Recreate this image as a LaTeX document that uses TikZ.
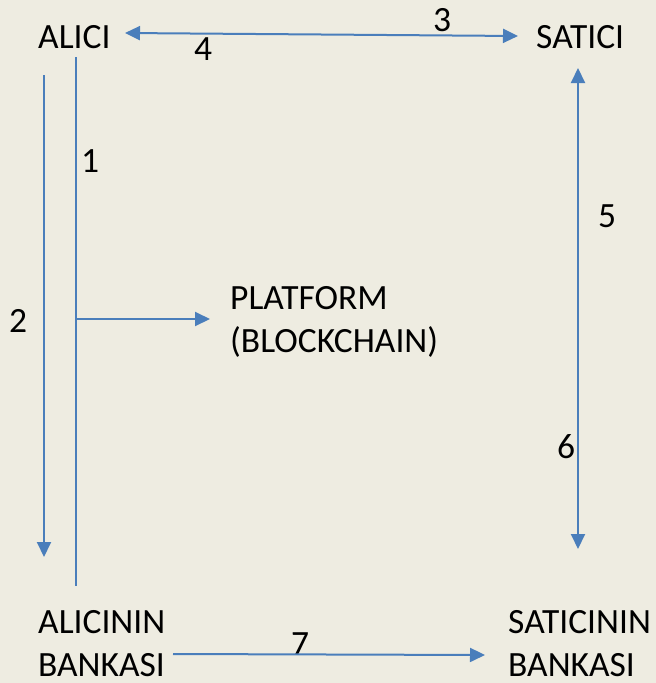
\documentclass[tikz,border=0pt]{standalone}
\usepackage{fontspec}
\setmainfont{Carlito}
\usetikzlibrary{arrows.meta}
\definecolor{bgtan}{HTML}{EEECE1}
\definecolor{lineblue}{HTML}{4A7EBB}
\begin{document}
\begin{tikzpicture}[x=1pt,y=-1pt,
  lbl/.style={inner sep=0pt,anchor=base west,font=\fontsize{35.5}{42}\selectfont},
  num/.style={inner sep=0pt,anchor=base,font=\fontsize{35.5}{42}\selectfont},
  conn/.style={draw=lineblue,line width=2pt},
  tip/.style={-{Triangle[length=15pt,width=14pt]}},
  tips/.style={{Triangle[length=15pt,width=14pt]}-{Triangle[length=15pt,width=14pt]}}]
\fill[bgtan] (0,0) rectangle (656,683);
\useasboundingbox (0,0) rectangle (656,683);
% texts
\node[lbl] (alici) at (38,48) {ALICI};
\node[lbl] (satici) at (536,48) {SATICI};
\node[lbl] (platform) at (230,309) {PLATFORM};
\node[lbl] (blockchain) at (230,352) {(BLOCKCHAIN)};
\node[lbl] (abank1) at (38,633) {ALICININ};
\node[lbl] (abank2) at (38,676) {BANKASI};
\node[lbl] (sbank1) at (508,633) {SATICININ};
\node[lbl] (sbank2) at (508,676) {BANKASI};
% numbers
\node[num] (n3) at (442,31) {3};
\node[num] (n4) at (203,60) {4};
\node[num] (n1) at (90,172) {1};
\node[num] (n2) at (18,332) {2};
\node[num] (n5) at (607,227) {5};
\node[num] (n6) at (566,458) {6};
\node[num] (n7) at (300,655) {7};
% connector endpoints
\coordinate (a34) at (125,33);
\coordinate (b34) at (518,36);
\coordinate (v1top) at (76,57);
\coordinate (v1bot) at (76,586);
\coordinate (v1mid) at (76,319);
\coordinate (ptip) at (210,319);
\coordinate (a2top) at (44,75);
\coordinate (a2bot) at (44,557);
\coordinate (a56top) at (578,68);
\coordinate (a56bot) at (578,549);
\coordinate (a7s) at (173,654);
\coordinate (a7e) at (485,655);
% connectors
\draw[conn,tips] (a34) -- (b34);
\draw[conn] (v1top) -- (v1bot);
\draw[conn,tip] (v1mid) -- (ptip);
\draw[conn,tip] (a2top) -- (a2bot);
\draw[conn,tips] (a56top) -- (a56bot);
\draw[conn,tip] (a7s) -- (a7e);
\end{tikzpicture}
\end{document}
